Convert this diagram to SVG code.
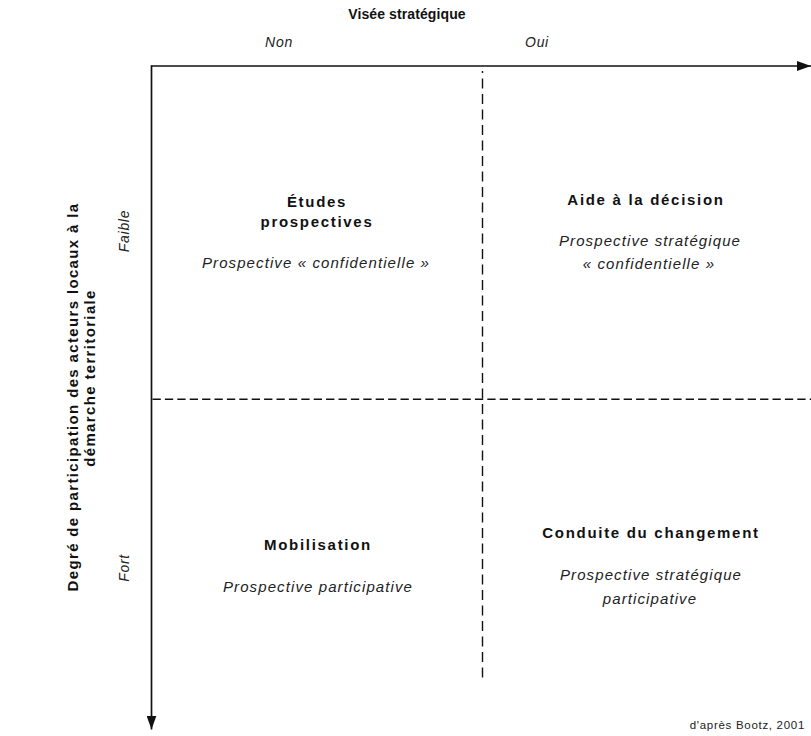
<svg xmlns="http://www.w3.org/2000/svg" width="811" height="736" viewBox="0 0 811 736">
<defs>
<style>
.t{font-family:"Liberation Sans",Arial,sans-serif;fill:#111;text-anchor:middle}
.b{font-weight:bold;font-size:15px;letter-spacing:1.7px}
.i{font-style:italic;font-size:15px;letter-spacing:1.1px;fill:#222}
.h{font-weight:bold;font-size:14px;letter-spacing:0.1px}
.ax{font-style:italic;font-size:14px;letter-spacing:0.7px;fill:#222}
.axis{stroke:#111;stroke-width:1.7;fill:none}
.dash{stroke:#111;stroke-width:1.4;fill:none}
</style>
<marker id="ah" viewBox="0 0 14 10" refX="14" refY="5" markerWidth="14" markerHeight="10" markerUnits="userSpaceOnUse" orient="auto">
<path d="M0,0 L14,5 L0,10 Z" fill="#111"/>
</marker>
</defs>
<rect width="811" height="736" fill="#fff"/>
<g id="connectors">
<line class="axis" x1="151.5" y1="66" x2="811" y2="66" marker-end="url(#ah)"/>
<line class="axis" x1="151.5" y1="65.2" x2="151.5" y2="729.5" marker-end="url(#ah)"/>
<line class="dash" x1="482.5" y1="71" x2="482.5" y2="682" stroke-dasharray="10 5.5" stroke-dashoffset="8"/>
<line class="dash" x1="152.5" y1="399.3" x2="811" y2="399.3" stroke-dasharray="8.3 4.1"/>
</g>
<g id="axis-labels">
<text class="t h" x="407" y="19">Visée stratégique</text>
<text class="t ax" x="279" y="47">Non</text>
<text class="t ax" x="537" y="47">Oui</text>
<text class="t b" transform="translate(78,397) rotate(-90)" x="0" y="0" style="letter-spacing:1.35px">Degré de participation des acteurs locaux à la</text>
<text class="t b" transform="translate(95,378) rotate(-90)" x="0" y="0" style="letter-spacing:1.35px">démarche territoriale</text>
<text class="t ax" transform="translate(129,231) rotate(-90)" x="0" y="0">Faible</text>
<text class="t ax" transform="translate(129,568) rotate(-90)" x="0" y="0">Fort</text>
</g>
<g id="node-etudes">
<text class="t b" x="317" y="207">Études</text>
<text class="t b" x="317" y="227">prospectives</text>
<text class="t i" x="316" y="268">Prospective « confidentielle »</text>
</g>
<g id="node-aide">
<text class="t b" x="646" y="205">Aide à la décision</text>
<text class="t i" x="650" y="246">Prospective stratégique</text>
<text class="t i" x="649" y="269">« confidentielle »</text>
</g>
<g id="node-mobilisation">
<text class="t b" x="318" y="550">Mobilisation</text>
<text class="t i" x="318" y="592">Prospective participative</text>
</g>
<g id="node-conduite">
<text class="t b" x="651" y="538">Conduite du changement</text>
<text class="t i" x="651" y="580">Prospective stratégique</text>
<text class="t i" x="650" y="604">participative</text>
</g>
<text class="t" x="805" y="729" style="text-anchor:end;font-size:11.5px;letter-spacing:0.7px;fill:#222">d'après Bootz, 2001</text>
</svg>
